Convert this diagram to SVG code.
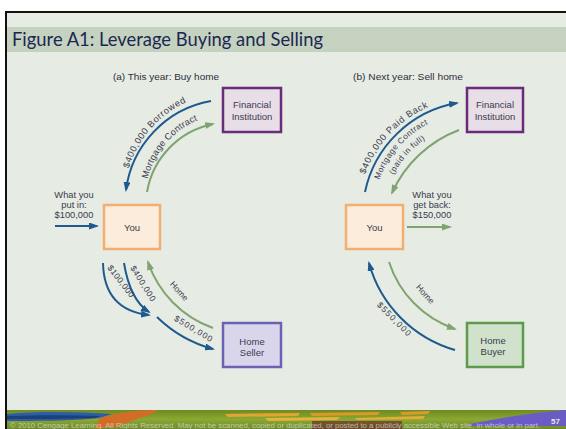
<svg xmlns="http://www.w3.org/2000/svg" width="566" height="429" viewBox="0 0 566 429">
  <defs>
    <style>
      .lbl { font-family: "Liberation Sans", Arial, sans-serif; font-size: 8.5px; fill: #3b3b4c; }
      .arc { font-size: 9.2px; }
      .box { font-size: 9.5px; }
      .side { font-size: 9.3px; }
      .small { font-size: 8.2px; }
      .sub { font-family: "Liberation Sans", Arial, sans-serif; font-size: 8.4px; fill: #2e2e3a; }
      .blue { fill: none; stroke: #1f5a8f; stroke-width: 2; }
      .green { fill: none; stroke: #7fa46f; stroke-width: 2; }
      .you rect { fill: #fbecdc; stroke: #f3ae72; stroke-width: 2.5; }
      .fin rect { fill: #e8dee8; stroke: #6a2b78; stroke-width: 2.5; }
      .seller rect { fill: #d9d6ec; stroke: #6b62b4; stroke-width: 2.5; }
      .buyer rect { fill: #d0e1cc; stroke: #5c9a4c; stroke-width: 2.5; }
      .foot { font-family: "Liberation Sans", Arial, sans-serif; font-size: 6.4px; fill: #e0e0e0; fill-opacity: 0.7; }
    </style>
    <marker id="ahBlue" markerUnits="userSpaceOnUse" markerWidth="10" markerHeight="7" refX="8" refY="3.5" orient="auto">
      <path d="M0,0 L10,3.5 L0,7 z" fill="#1f5a8f"/>
    </marker>
    <marker id="ahGreen" markerUnits="userSpaceOnUse" markerWidth="10" markerHeight="7" refX="8" refY="3.5" orient="auto">
      <path d="M0,0 L10,3.5 L0,7 z" fill="#7fa46f"/>
    </marker>
    <linearGradient id="grass" x1="0" y1="0" x2="0" y2="1">
      <stop offset="0" stop-color="#6e8a22"/>
      <stop offset="0.5" stop-color="#8aa832"/>
      <stop offset="1" stop-color="#6f8a2a"/>
    </linearGradient>
    <!-- text baselines for the curved labels -->
    <path id="tpBorrowed" d="M128.7,168.4 A108,108 0 0 1 204,95.7"/>
    <path id="tpContractA" d="M147.6,179 A87,87 0 0 1 205.1,117.3"/>
    <path id="tpPaidBack" d="M365.1,174.6 A118,118 0 0 1 433.7,104.8"/>
    <path id="tpContractB" d="M379.2,179.8 A103,103 0 0 1 440.8,118.2"/>
    <path id="tpPaidFull" d="M391.6,179.5 A91,91 0 0 1 433.6,134.5"/>
  </defs>

  <!-- page and slide frame -->
  <rect x="0" y="0" width="566" height="429" fill="#ffffff"/>
  <rect x="5" y="11" width="561" height="418" fill="#e6ebe4"/>
  <rect x="5" y="27" width="561" height="25" fill="#c5d2c0"/>
  <line x1="5" y1="12" x2="566" y2="12" stroke="#111" stroke-width="2"/>
  <line x1="6" y1="11" x2="6" y2="429" stroke="#111" stroke-width="2"/>

  <text x="12" y="46" font-family="Lato, 'Open Sans', sans-serif" font-size="19" fill="#1b2750" textLength="311" lengthAdjust="spacingAndGlyphs">Figure A1: Leverage Buying and Selling</text>

  <text class="sub" x="113" y="79.5" textLength="106" lengthAdjust="spacingAndGlyphs">(a) This year: Buy home</text>
  <text class="sub" x="353" y="79.5" textLength="110" lengthAdjust="spacingAndGlyphs">(b) Next year: Sell home</text>

  <!-- connectors -->
  <g id="connectors">
    <!-- (a) buy -->
    <path class="blue" d="M211,101 A104,104 0 0 0 126,190" marker-end="url(#ahBlue)"/>
    <path class="green" d="M147,192 A84,84 0 0 1 213,124" marker-end="url(#ahGreen)"/>
    <path class="blue" d="M55,226 L97,226" marker-end="url(#ahBlue)"/>
    <path class="blue" d="M103,263 Q104,310 149,315" marker-end="url(#ahBlue)"/>
    <path class="blue" d="M124,263 Q130,300 149,312" marker-end="url(#ahBlue)"/>
    <path class="blue" d="M157,317 A128,128 0 0 0 213,349" marker-end="url(#ahBlue)"/>
    <path class="green" d="M213,328 A106,106 0 0 1 148,262" marker-end="url(#ahGreen)"/>
    <!-- (b) sell -->
    <path class="blue" d="M365,192 A114,114 0 0 1 457,103" marker-end="url(#ahBlue)"/>
    <path class="green" d="M459,130 A120,120 0 0 0 392,193" marker-end="url(#ahGreen)"/>
    <path class="green" d="M407,227 L450,227" marker-end="url(#ahGreen)"/>
    <path class="green" d="M389,262 A105,105 0 0 0 455,329" marker-end="url(#ahGreen)"/>
    <path class="blue" d="M455,350 A125,125 0 0 1 369,263" marker-end="url(#ahBlue)"/>
  </g>

  <!-- connector labels -->
  <g id="labels">
    <text class="lbl arc"><textPath href="#tpBorrowed" textLength="90" lengthAdjust="spacing">$400,000 Borrowed</textPath></text>
    <text class="lbl arc"><textPath href="#tpContractA" textLength="80" lengthAdjust="spacing">Mortgage Contract</textPath></text>
    <text class="lbl side" text-anchor="middle"><tspan x="74" y="198">What you</tspan><tspan x="74" y="208">put in:</tspan><tspan x="74" y="218">$100,000</tspan></text>
    <text class="lbl" transform="translate(107,268) rotate(52)" textLength="38" lengthAdjust="spacing">$100,000</text>
    <text class="lbl" transform="translate(130,268) rotate(58)" textLength="40" lengthAdjust="spacing">$400,000</text>
    <text class="lbl" text-anchor="middle" transform="translate(177,293) rotate(48)">Home</text>
    <text class="lbl" text-anchor="middle" transform="translate(192,331) rotate(31)" textLength="43" lengthAdjust="spacing">$500,000</text>

    <text class="lbl arc"><textPath href="#tpPaidBack" textLength="95" lengthAdjust="spacing">$400,000 Paid Back</textPath></text>
    <text class="lbl small"><textPath href="#tpContractB" textLength="76" lengthAdjust="spacing">Mortgage Contract</textPath></text>
    <text class="lbl small"><textPath href="#tpPaidFull" startOffset="5" textLength="48" lengthAdjust="spacing">(paid in full)</textPath></text>
    <text class="lbl side" text-anchor="middle"><tspan x="432" y="198">What you</tspan><tspan x="432" y="208">get back:</tspan><tspan x="432" y="218">$150,000</tspan></text>
    <text class="lbl" text-anchor="middle" transform="translate(423,296) rotate(48)">Home</text>
    <text class="lbl" text-anchor="middle" transform="translate(392,321) rotate(45)" textLength="44" lengthAdjust="spacing">$550,000</text>
  </g>

  <!-- nodes -->
  <g id="you-a" class="you">
    <rect x="104" y="205" width="56" height="44"/>
    <text class="lbl box" x="132" y="230.5" text-anchor="middle">You</text>
  </g>
  <g id="financial-a" class="fin">
    <rect x="223" y="88" width="58" height="44"/>
    <text class="lbl box" x="252" y="108" text-anchor="middle">Financial</text>
    <text class="lbl box" x="252" y="120" text-anchor="middle">Institution</text>
  </g>
  <g id="seller" class="seller">
    <rect x="223" y="323" width="58" height="44"/>
    <text class="lbl box" x="252" y="344.5" text-anchor="middle">Home</text>
    <text class="lbl box" x="252" y="356" text-anchor="middle">Seller</text>
  </g>
  <g id="you-b" class="you">
    <rect x="346" y="205" width="57" height="44"/>
    <text class="lbl box" x="374.5" y="230.5" text-anchor="middle">You</text>
  </g>
  <g id="financial-b" class="fin">
    <rect x="467" y="88" width="56" height="44"/>
    <text class="lbl box" x="495" y="108" text-anchor="middle">Financial</text>
    <text class="lbl box" x="495" y="120" text-anchor="middle">Institution</text>
  </g>
  <g id="buyer" class="buyer">
    <rect x="467" y="323" width="56" height="44"/>
    <text class="lbl box" x="493" y="343.5" text-anchor="middle">Home</text>
    <text class="lbl box" x="493" y="355" text-anchor="middle">Buyer</text>
  </g>

  <!-- footer strip -->
  <g id="footer">
    <rect x="7" y="410" width="559" height="19" fill="url(#grass)"/>
    <path d="M7,414 C40,411 80,412 112,414 L100,418 C70,421 35,421 7,421 z" fill="#2b5ea6"/>
    <path d="M7,416 C40,415 70,415 100,416 L95,418 C60,419 30,419 7,419 z" fill="#1d3f7a"/>
    <path d="M100,418 C115,413 135,410 158,410 L150,415 C140,418 130,421 120,426 L95,429 z" fill="#d26d27"/>
    <path d="M225,414 L300,413 L298,416 L228,417 z" fill="#e0a631"/>
    <path d="M265,418 L340,417 L337,420 L268,421 z" fill="#e6b23a"/>
    <path d="M310,413 L380,412 L378,415 L312,416 z" fill="#d99a2c"/>
    <path d="M355,418 L425,416 L423,419 L357,420 z" fill="#e3ad36"/>
    <path d="M400,412 L430,411 L428,414 L402,415 z" fill="#d99a2c"/>
    <path d="M470,424 C500,418 530,413 566,410 L566,426 C530,426 500,426 470,426 z" fill="#6a5cc4"/>
    <rect x="312" y="421" width="90" height="8" fill="#6a1f2a" fill-opacity="0.6"/>
    <text class="foot" x="10" y="427.5" textLength="530" lengthAdjust="spacingAndGlyphs">© 2010 Cengage Learning. All Rights Reserved. May not be scanned, copied or duplicated, or posted to a publicly accessible Web site, in whole or in part.</text>
    <text x="560" y="424" text-anchor="end" font-family="'Liberation Sans', Arial, sans-serif" font-size="8" font-weight="bold" fill="#e6e6e6">57</text>
  </g>
</svg>
